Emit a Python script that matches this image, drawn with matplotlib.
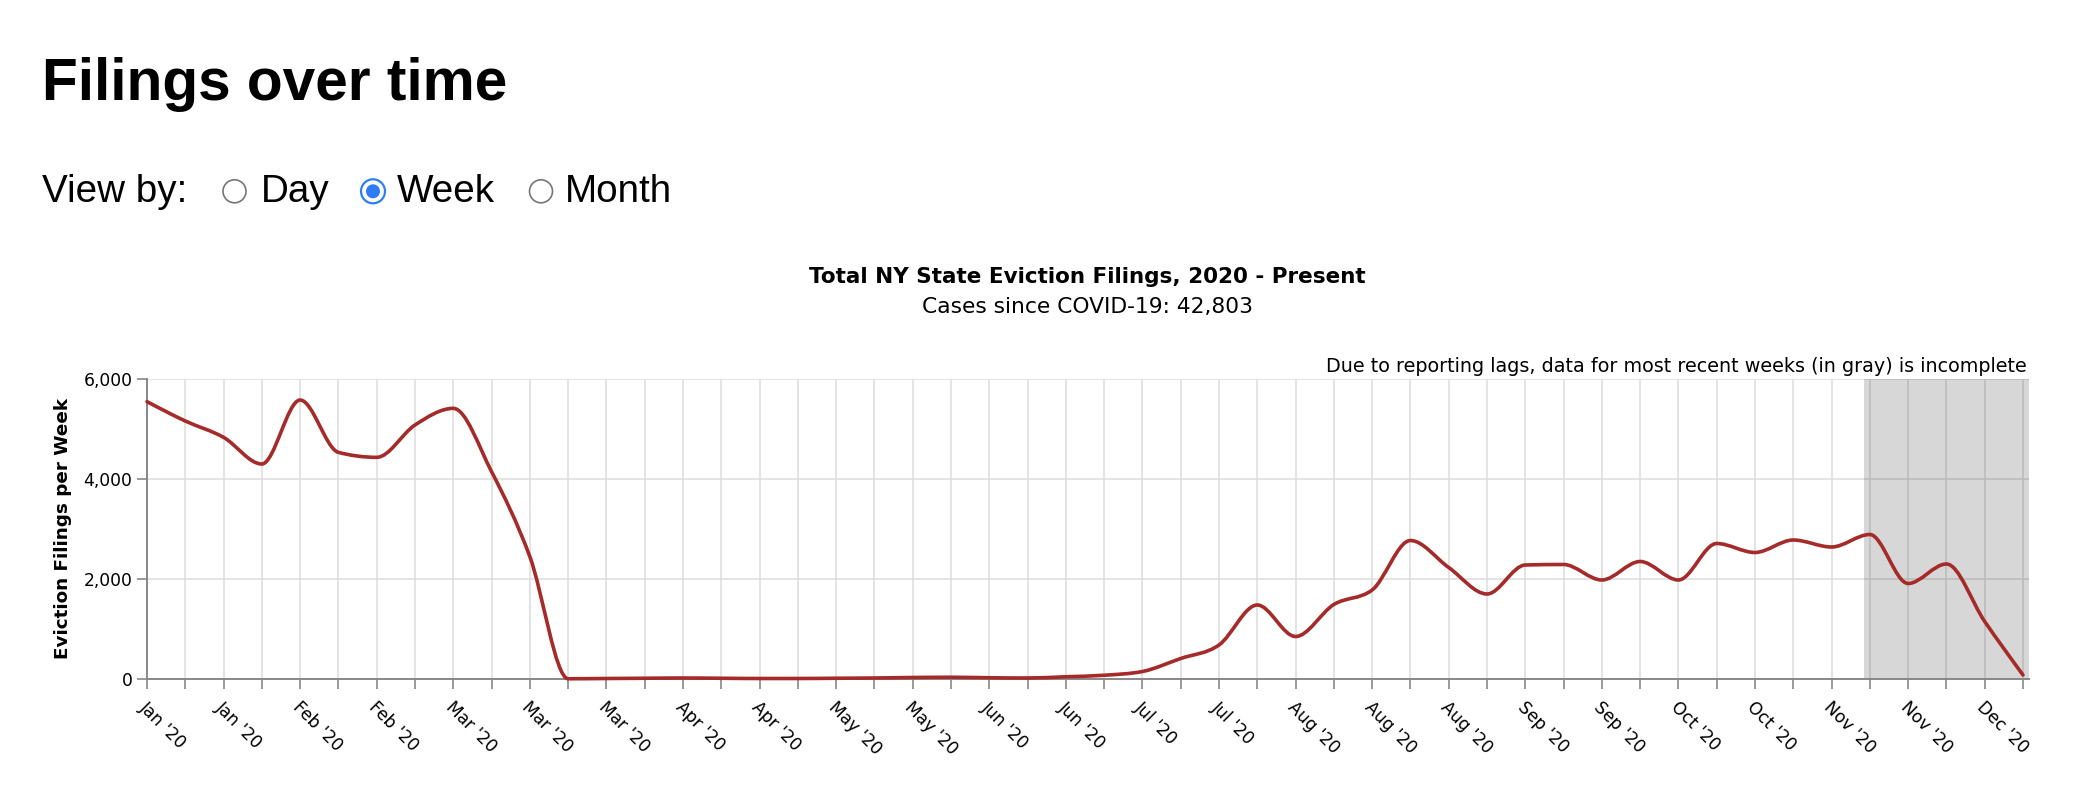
import numpy as np
import matplotlib
matplotlib.use("Agg")
import matplotlib.pyplot as plt
from matplotlib.path import Path
from matplotlib.patches import PathPatch, Circle
import matplotlib.transforms as mtransforms

# ---------------- data ----------------
weeks = list(range(50))
filings = [5547, 5160, 4833, 4300, 5580, 4533, 4433, 5080, 5413, 4147,
           2447, 5, 10, 15, 20, 15, 10, 10, 15, 20,
           30, 35, 25, 20, 45, 75, 150, 410, 680, 1480,
           850, 1490, 1780, 2770, 2230, 1700, 2280, 2290, 1980, 2350,
           1980, 2710, 2530, 2780, 2640, 2890, 1910, 2300, 1150, 80]
tick_labels = ["Jan '20", "Jan '20", "Feb '20", "Feb '20", "Mar '20", "Mar '20",
               "Mar '20", "Apr '20", "Apr '20", "May '20", "May '20", "Jun '20",
               "Jun '20", "Jul '20", "Jul '20", "Aug '20", "Aug '20", "Aug '20",
               "Sep '20", "Sep '20", "Oct '20", "Oct '20", "Nov '20", "Nov '20",
               "Dec '20"]
y_ticks = [0, 2000, 4000, 6000]
y_tick_labels = ["0", "2,000", "4,000", "6,000"]
incomplete_start = 44.84
x_max = 49.157

heading = "Filings over time"
view_label = "View by:"
view_options = ["Day", "Week", "Month"]
chart_title = "Total NY State Eviction Filings, 2020 - Present"
chart_subtitle = "Cases since COVID-19: 42,803"
note = "Due to reporting lags, data for most recent weeks (in gray) is incomplete"
y_label = "Eviction Filings per Week"

LINE = "#a52a2a"
GRID = "#dddddd"
AXIS = "#888888"
BLUE = "#2f7df6"

W, H = 2078, 806
fig = plt.figure(figsize=(W / 100, H / 100), dpi=100)
fig.patch.set_facecolor("white")

ov = fig.add_axes([0, 0, 1, 1])
ov.set_xlim(0, W)
ov.set_ylim(H, 0)
ov.axis("off")

ax = fig.add_axes([147 / W, (H - 679) / H, (2029 - 147) / W, 300 / H])


def monotone_path(x, y):
    x = np.asarray(x, float)
    y = np.asarray(y, float)
    n = len(x)
    h = np.diff(x)
    s = np.diff(y) / h
    t = np.zeros(n)
    for i in range(1, n - 1):
        h0, h1 = h[i - 1], h[i]
        s0, s1 = s[i - 1], s[i]
        p = (s0 * h1 + s1 * h0) / (h0 + h1)
        t[i] = (np.sign(s0) + np.sign(s1)) * min(abs(s0), abs(s1), 0.5 * abs(p))
    t[0] = (3 * s[0] - t[1]) / 2
    t[-1] = (3 * s[-1] - t[-2]) / 2
    verts = [(x[0], y[0])]
    codes = [Path.MOVETO]
    for i in range(n - 1):
        dx = (x[i + 1] - x[i]) / 3
        verts += [(x[i] + dx, y[i] + dx * t[i]),
                  (x[i + 1] - dx, y[i + 1] - dx * t[i + 1]),
                  (x[i + 1], y[i + 1])]
        codes += [Path.CURVE4] * 3
    return Path(verts, codes)


ax.set_xlim(0, x_max)
ax.set_ylim(0, 6000)
ax.set_axisbelow(True)
ax.set_xticks(weeks)
ax.set_xticklabels([tick_labels[i // 2] if i % 2 == 0 else "" for i in weeks],
                   rotation=-45, ha="left", va="center", rotation_mode="anchor")
ax.set_yticks(y_ticks)
ax.set_yticklabels(y_tick_labels)
ax.grid(True, color=GRID, lw=1.1)
for sp in ("top", "right"):
    ax.spines[sp].set_visible(False)
for sp in ("left", "bottom"):
    ax.spines[sp].set_color(AXIS)
    ax.spines[sp].set_linewidth(1.4)
ax.tick_params(axis="both", direction="out", length=7, width=1.2, color=AXIS,
               labelsize=12.3, labelcolor="black")
ax.tick_params(axis="y", pad=3.6)
ax.tick_params(axis="x", pad=11.5)
off = mtransforms.ScaledTranslation(-5 / 100, 0, fig.dpi_scale_trans)
for lbl in ax.get_xticklabels():
    lbl.set_transform(lbl.get_transform() + off)

ax.axvspan(incomplete_start, x_max, color="black", alpha=0.155, lw=0, zorder=2)
ax.add_patch(PathPatch(monotone_path(weeks, filings), fill=False, edgecolor=LINE,
                       lw=2.6, capstyle="round", joinstyle="round", zorder=4,
                       clip_on=False))

# ---------------- figure-level text ----------------
t_head = ov.text(42, 100.5, heading, family="Liberation Sans", weight="bold",
                 fontsize=41, ha="left", va="baseline")
t_view = ov.text(42, 202, view_label, family="Liberation Sans", fontsize=26,
                 ha="left", va="baseline")
opt_x = [261, 397, 565]
circ_x = [234.5, 373, 541]
opt_texts = []
for i, (lab, tx, cx) in enumerate(zip(view_options, opt_x, circ_x)):
    opt_texts.append(ov.text(tx, 202, lab, family="Liberation Sans", fontsize=26,
                             ha="left", va="baseline"))
    if lab == "Week":
        ov.add_patch(Circle((cx, 191.3), 12, facecolor="white", edgecolor=BLUE, lw=1.6))
        ov.add_patch(Circle((cx, 191.3), 7, facecolor=BLUE, edgecolor="none"))
    else:
        ov.add_patch(Circle((cx, 191.3), 11.5, facecolor="white", edgecolor="#767676", lw=1.2))

t_title = ov.text(1087, 283, chart_title, weight="bold", fontsize=15,
                  ha="center", va="baseline")
t_sub = ov.text(1088, 313, chart_subtitle, fontsize=15, ha="center", va="baseline")
t_note = ov.text(2027, 371.5, note, fontsize=13, ha="right", va="baseline")
t_ylab = ov.text(63.5, 528.5, y_label, weight="bold", fontsize=12.5, rotation=90,
                 ha="center", va="center")


def fit(t, target, vertical=False):
    r = fig.canvas.get_renderer()
    bb = t.get_window_extent(renderer=r)
    cur = bb.height if vertical else bb.width
    t.set_fontsize(t.get_fontsize() * target / cur)


fit(t_head, 467)
fit(t_view, 145)
for t in opt_texts:
    t.set_fontsize(t_view.get_fontsize())
fit(t_title, 560)
fit(t_sub, 330)
fit(t_note, 700)
fit(t_ylab, 263, vertical=True)

fig.savefig("out.png", dpi=100, facecolor="white")
